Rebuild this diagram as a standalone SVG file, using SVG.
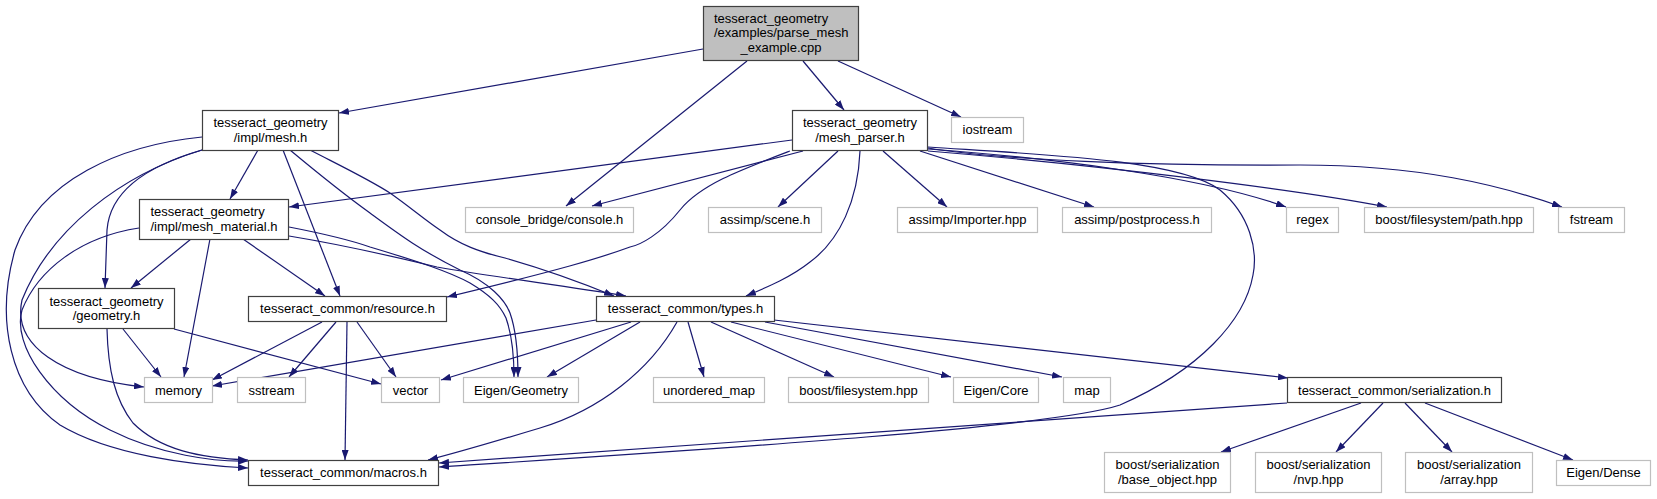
<svg xmlns="http://www.w3.org/2000/svg" width="1657" height="499" viewBox="0 0 1657 499">
<defs>
<marker id="arr" viewBox="0 0 10 7" refX="10" refY="3.5" markerWidth="10" markerHeight="7" markerUnits="userSpaceOnUse" orient="auto">
<path d="M0,0 L10,3.5 L0,7 z" fill="#191970"/>
</marker>
<style>
.n rect{fill:#ffffff;stroke:#404040;stroke-width:1.2}
.x rect{fill:#ffffff;stroke:#bfbfbf;stroke-width:1.2}
.r rect{fill:#bfbfbf;stroke:#404040;stroke-width:1.2}
text{font-family:"Liberation Sans",Arial,Helvetica,sans-serif;font-size:13px;fill:#000000}
.c{text-anchor:middle}
#edges path{fill:none;stroke:#191970;stroke-width:1.2;marker-end:url(#arr)}
</style>
</defs>
<rect width="1657" height="499" fill="#ffffff"/>
<g id="edges">
<path d="M703,49 L339,113"/>
<path d="M747,61 L566,206"/>
<path d="M803,61 L844,110"/>
<path d="M838,61 L961,117"/>
<path d="M258,150 L230,199"/>
<path d="M202,150 C150,165 110,190 107,230 L105,288"/>
<path d="M202,150 C120,175 50,230 22,300 C12,345 60,378 144,387"/>
<path d="M202,137 C120,145 40,180 15,250 C-5,320 10,390 60,425 C110,455 190,465 248,468"/>
<path d="M283,150 L340,296"/>
<path d="M290,150 C320,175 345,195 370,213 C400,235 420,250 460,270 C490,283 505,300 510,313 C516,330 518,350 518,377"/>
<path d="M310,150 C345,168 370,180 390,193 C410,207 425,220 440,230 C460,245 480,252 505,258 C540,268 580,282 614,296"/>
<path d="M191,239 L131,288"/>
<path d="M210,239 L184,377"/>
<path d="M243,239 L325,296"/>
<path d="M289,227 C320,233 350,240 370,247 C420,262 450,272 470,283 C490,295 500,305 506,318 C512,335 514,355 514,377"/>
<path d="M289,236 C350,246 400,258 437,267 C500,278 560,285 626,296"/>
<path d="M139,228 C80,237 38,270 22,310 C12,345 50,400 110,430 C160,455 215,462 248,461"/>
<path d="M123,329 L161,377"/>
<path d="M174,329 L381,384"/>
<path d="M107,329 C108,370 115,400 133,423 C160,450 200,458 248,460"/>
<path d="M322,322 L212,380"/>
<path d="M336,322 L289,377"/>
<path d="M357,322 L396,377"/>
<path d="M347,322 L345,460"/>
<path d="M596,320 L212,386"/>
<path d="M631,322 L441,380"/>
<path d="M640,322 L547,377"/>
<path d="M677,322 C650,370 600,410 540,428 C500,440 460,452 428,460"/>
<path d="M688,322 L704,377"/>
<path d="M711,322 L834,377"/>
<path d="M731,322 L951,377"/>
<path d="M765,322 L1062,377"/>
<path d="M774,320 L1288,378"/>
<path d="M1287,403 L439,463"/>
<path d="M1361,403 L1221,452"/>
<path d="M1383,403 L1336,452"/>
<path d="M1405,403 L1452,452"/>
<path d="M1425,403 L1573,460"/>
<path d="M792,140 L289,207"/>
<path d="M803,151 L592,206"/>
<path d="M790,151 C740,170 700,185 680,210 C660,235 640,245 630,247 C600,258 560,270 447,297"/>
<path d="M838,151 L778,207"/>
<path d="M860,151 C858,200 840,240 810,262 C790,278 765,288 746,296"/>
<path d="M883,151 L947,207"/>
<path d="M920,151 L1094,207"/>
<path d="M928,149 C1050,158 1200,176 1286,207"/>
<path d="M928,151 C1100,165 1300,190 1387,207"/>
<path d="M928,148 C1000,160 1150,166 1300,165 C1420,165 1500,185 1562,207"/>
<path d="M928,147 C1050,155 1180,160 1220,190 C1250,215 1258,250 1253,275 C1245,320 1200,370 1120,405 C1050,428 700,450 439,467"/>
</g>
<g id="root" class="r"><rect x="703.5" y="6.5" width="155" height="54"/><text x="714" y="22.7">tesseract_geometry</text><text x="714" y="37.2">/examples/parse_mesh</text><text class="c" x="781" y="51.7">_example.cpp</text></g>
<g id="mesh_h" class="n"><rect x="202.5" y="110.5" width="136" height="40"/><text class="c" x="270.5" y="127">tesseract_geometry</text><text class="c" x="270.5" y="141.5">/impl/mesh.h</text></g>
<g id="mesh_parser_h" class="n"><rect x="792.5" y="110.5" width="135" height="40"/><text class="c" x="860" y="127">tesseract_geometry</text><text class="c" x="860" y="141.5">/mesh_parser.h</text></g>
<g id="iostream" class="x"><rect x="951.5" y="117.5" width="72" height="25"/><text class="c" x="987.5" y="134">iostream</text></g>
<g id="mesh_material_h" class="n"><rect x="139.5" y="199.5" width="149" height="40"/><text x="150.5" y="216">tesseract_geometry</text><text class="c" x="214" y="230.5">/impl/mesh_material.h</text></g>
<g id="console_h" class="x"><rect x="465.5" y="207.5" width="168" height="25"/><text class="c" x="549.5" y="224">console_bridge/console.h</text></g>
<g id="scene_h" class="x"><rect x="708.5" y="207.5" width="113" height="25"/><text class="c" x="765" y="224">assimp/scene.h</text></g>
<g id="importer_hpp" class="x"><rect x="897.5" y="207.5" width="140" height="25"/><text class="c" x="967.5" y="224">assimp/Importer.hpp</text></g>
<g id="postprocess_h" class="x"><rect x="1062.5" y="207.5" width="149" height="25"/><text class="c" x="1137" y="224">assimp/postprocess.h</text></g>
<g id="regex" class="x"><rect x="1286.5" y="207.5" width="52" height="25"/><text class="c" x="1312.5" y="224">regex</text></g>
<g id="path_hpp" class="x"><rect x="1364.5" y="207.5" width="169" height="25"/><text class="c" x="1449" y="224">boost/filesystem/path.hpp</text></g>
<g id="fstream" class="x"><rect x="1558.5" y="207.5" width="66" height="25"/><text class="c" x="1591.5" y="224">fstream</text></g>
<g id="geometry_h" class="n"><rect x="38.5" y="288.5" width="136" height="40"/><text class="c" x="106.5" y="305.5">tesseract_geometry</text><text class="c" x="106.5" y="320">/geometry.h</text></g>
<g id="resource_h" class="n"><rect x="248.5" y="296.5" width="198" height="25"/><text class="c" x="347.5" y="313">tesseract_common/resource.h</text></g>
<g id="types_h" class="n"><rect x="596.5" y="296.5" width="178" height="25"/><text class="c" x="685.5" y="313">tesseract_common/types.h</text></g>
<g id="memory" class="x"><rect x="144.5" y="377.5" width="68" height="25"/><text class="c" x="178.5" y="394.5">memory</text></g>
<g id="sstream" class="x"><rect x="237.5" y="377.5" width="68" height="25"/><text class="c" x="271.5" y="394.5">sstream</text></g>
<g id="vector" class="x"><rect x="381.5" y="377.5" width="58" height="25"/><text class="c" x="410.5" y="394.5">vector</text></g>
<g id="eigen_geometry" class="x"><rect x="463.5" y="377.5" width="115" height="25"/><text class="c" x="521" y="394.5">Eigen/Geometry</text></g>
<g id="unordered_map" class="x"><rect x="653.5" y="377.5" width="111" height="25"/><text class="c" x="709" y="394.5">unordered_map</text></g>
<g id="filesystem_hpp" class="x"><rect x="788.5" y="377.5" width="140" height="25"/><text class="c" x="858.5" y="394.5">boost/filesystem.hpp</text></g>
<g id="eigen_core" class="x"><rect x="953.5" y="377.5" width="85" height="25"/><text class="c" x="996" y="394.5">Eigen/Core</text></g>
<g id="map" class="x"><rect x="1063.5" y="377.5" width="47" height="25"/><text class="c" x="1087" y="394.5">map</text></g>
<g id="serialization_h" class="n"><rect x="1287.5" y="377.5" width="214" height="25"/><text class="c" x="1394.5" y="394.5">tesseract_common/serialization.h</text></g>
<g id="macros_h" class="n"><rect x="248.5" y="460.5" width="190" height="25"/><text class="c" x="343.5" y="477">tesseract_common/macros.h</text></g>
<g id="base_object_hpp" class="x"><rect x="1104.5" y="452.5" width="126" height="40"/><text class="c" x="1167.5" y="469">boost/serialization</text><text class="c" x="1167.5" y="483.5">/base_object.hpp</text></g>
<g id="nvp_hpp" class="x"><rect x="1255.5" y="452.5" width="126" height="40"/><text class="c" x="1318.5" y="469">boost/serialization</text><text class="c" x="1318.5" y="483.5">/nvp.hpp</text></g>
<g id="array_hpp" class="x"><rect x="1405.5" y="452.5" width="127" height="40"/><text class="c" x="1469" y="469">boost/serialization</text><text class="c" x="1469" y="483.5">/array.hpp</text></g>
<g id="eigen_dense" class="x"><rect x="1556.5" y="460.5" width="94" height="25"/><text class="c" x="1603.5" y="477">Eigen/Dense</text></g>
</svg>
